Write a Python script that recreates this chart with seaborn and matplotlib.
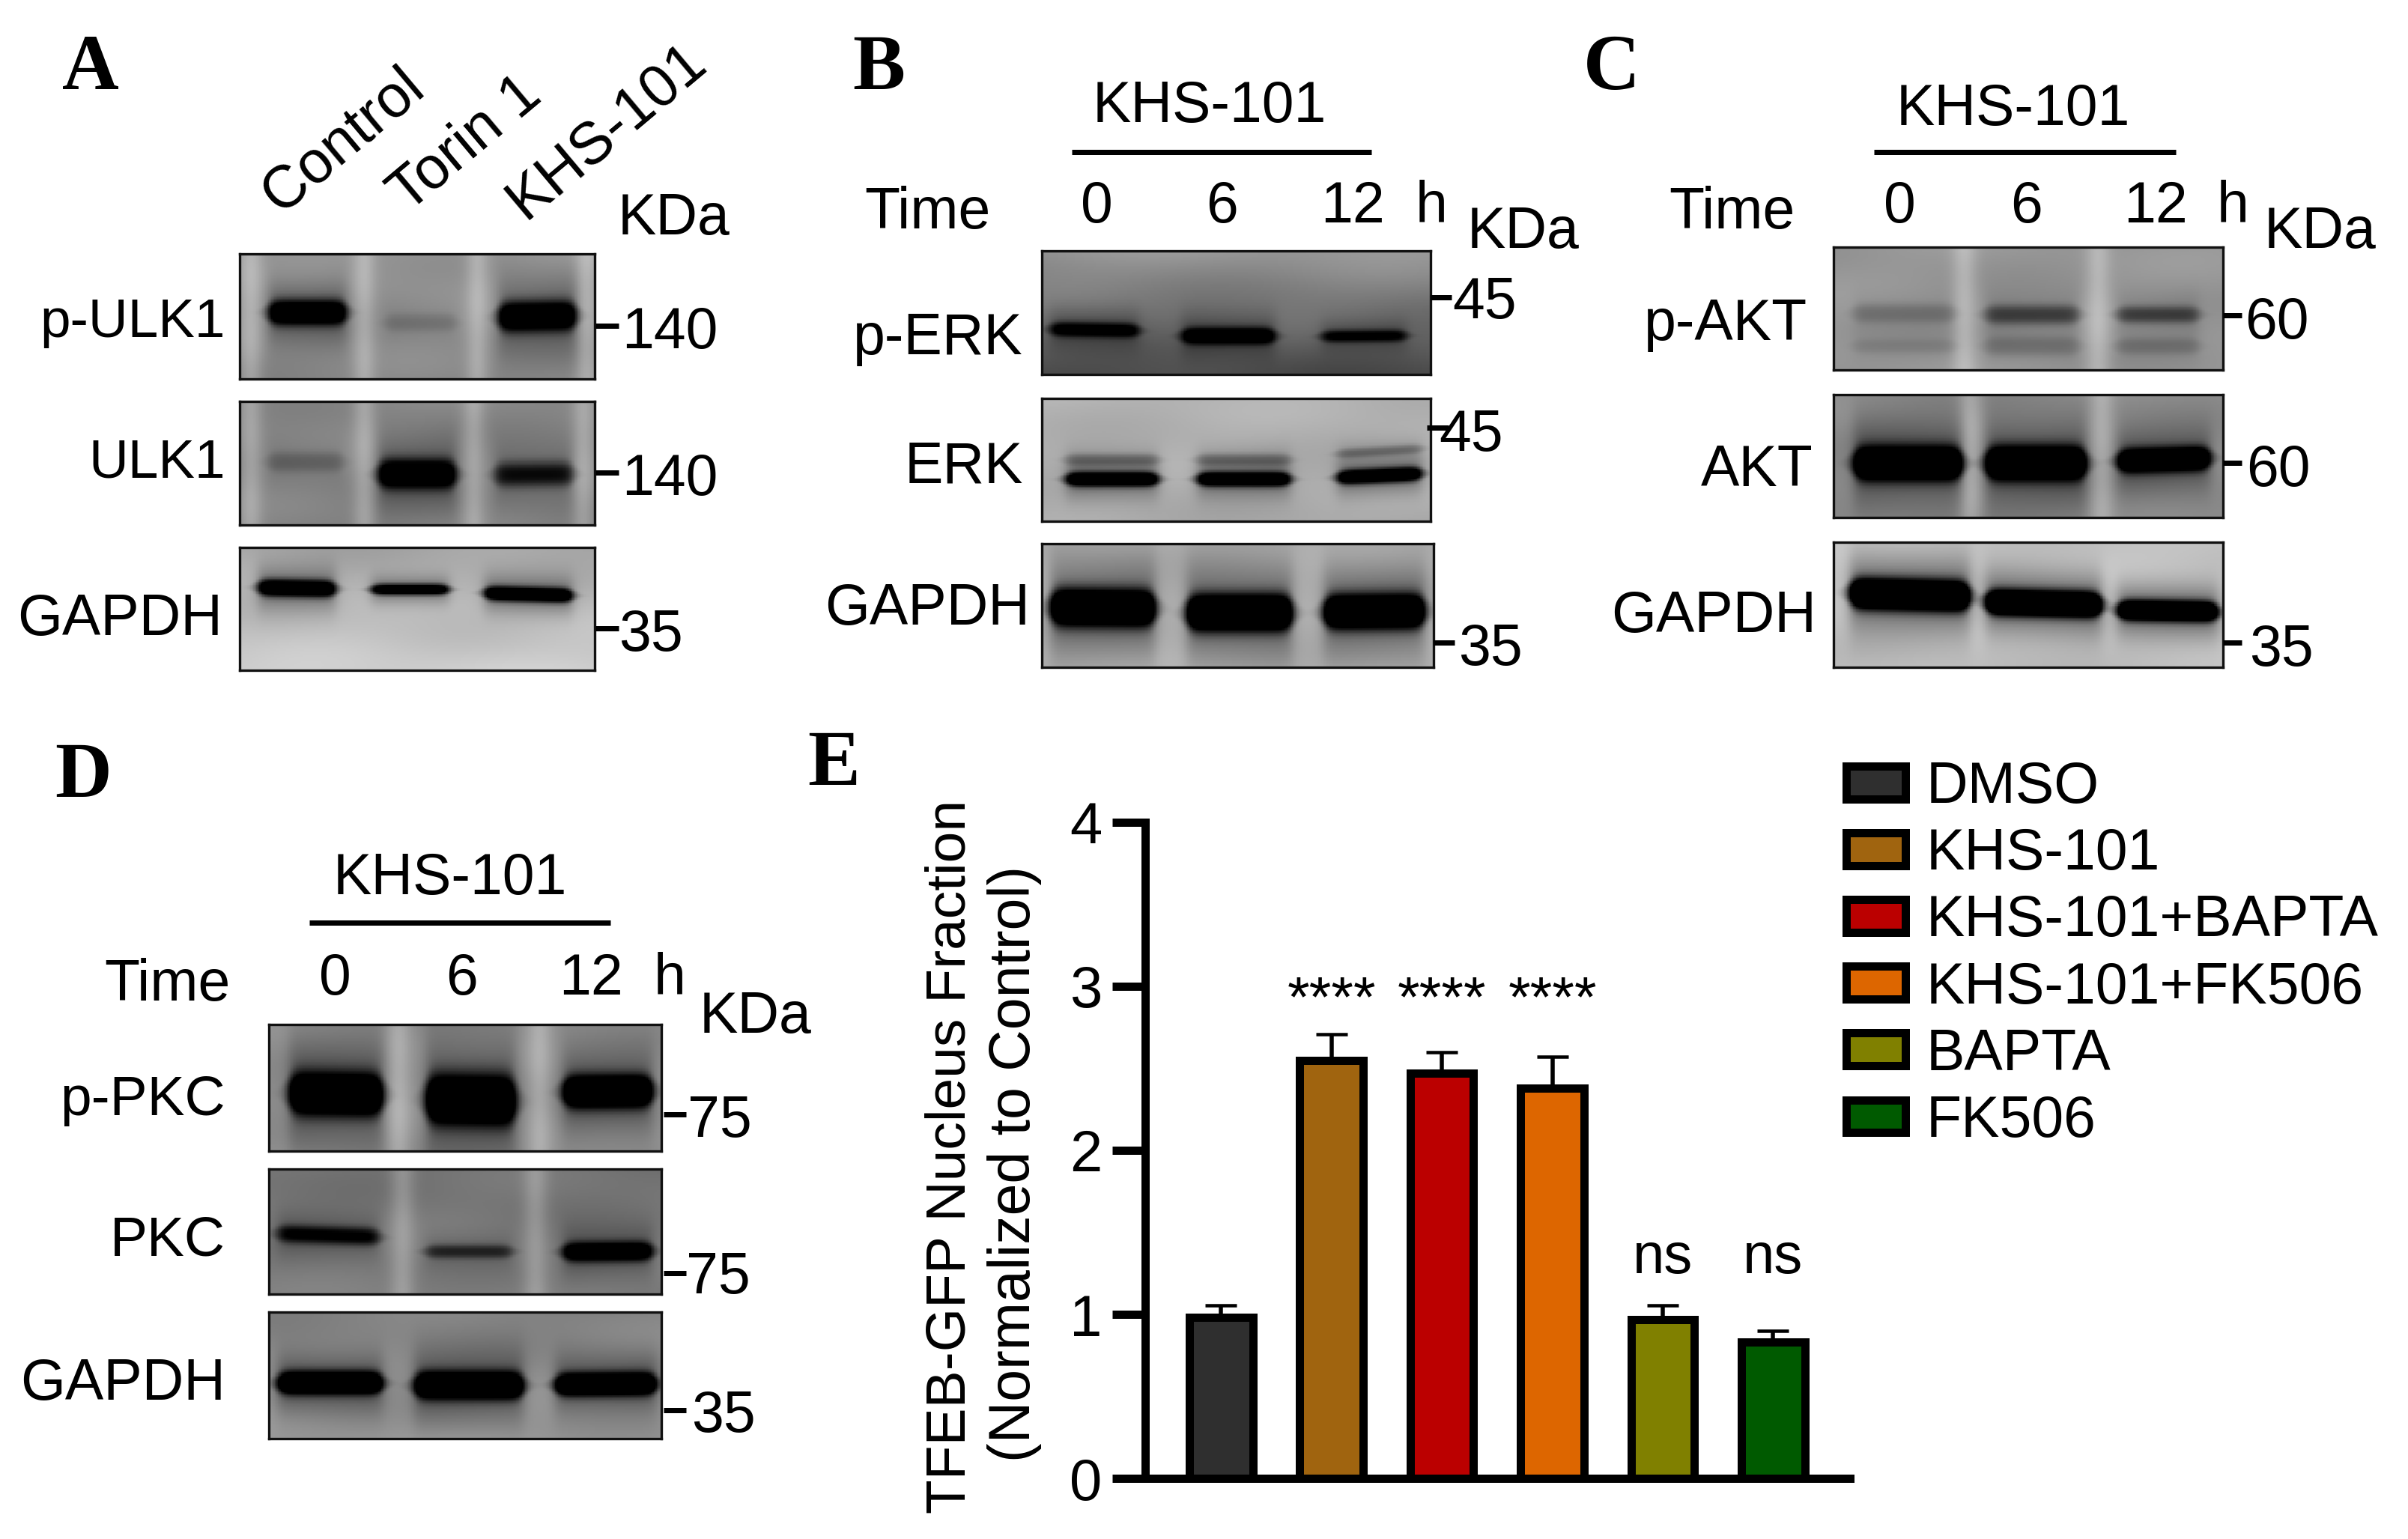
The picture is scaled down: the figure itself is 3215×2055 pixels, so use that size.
import numpy as np
import pandas as pd
import matplotlib
matplotlib.use('Agg')
import matplotlib.pyplot as plt
import seaborn as sns

W, H = 3215, 2055

# Bar chart values (panel E)
categories = ['DMSO', 'KHS-101', 'KHS-101+BAPTA', 'KHS-101+FK506', 'BAPTA', 'FK506']
means = [0.98, 2.55, 2.47, 2.38, 0.97, 0.83]
errors = [0.075, 0.16, 0.13, 0.19, 0.085, 0.07]
signif = ['', '****', '****', '****', 'ns', 'ns']
colors = ['#2f2f2f', '#a0640f', '#bb0000', '#dd6600', '#808000', '#005a00']

# Blots: (top gray, bottom gray), light lane gaps, bands (x0, x1, y, half height, strength, tilt)
p_ulk1 = ((150, 135), [.03, .35, .67, .98], [(.08, .30, .47, .10, 1.1, 0), (.41, .61, .55, .07, .15, 0), (.73, .95, .50, .12, 1.1, -.05)])
ulk1 = ((135, 130), [.03, .35, .66, .97], [(.08, .29, .49, .08, .22, 0), (.39, .61, .59, .12, 1.1, 0), (.72, .94, .59, .10, .7, -.03)])
gapdh_a = ((165, 205), [], [(.05, .27, .33, .07, 1.1, .05), (.37, .59, .34, .045, 1, 0), (.69, .94, .38, .06, 1.1, .08)])
p_erk = ((150, 75), [], [(.02, .25, .64, .06, .95, .05), (.36, .60, .69, .07, 1.1, 0), (.72, .94, .69, .05, .85, -.03)])
erk = ((178, 170), [], [(.06, .30, .50, .05, .25, 0), (.06, .30, .66, .06, 1.1, 0), (.40, .64, .50, .05, .25, 0), (.40, .64, .66, .06, 1.1, 0), (.76, .98, .43, .04, .25, -.2), (.76, .98, .63, .06, 1.1, -.15)])
gapdh_b = ((170, 175), [], [(.02, .29, .52, .15, 1.3, .03), (.37, .64, .56, .15, 1.3, 0), (.72, .98, .55, .14, 1.3, -.03)])
p_akt = ((150, 150), [.335, .68], [(.05, .31, .54, .08, .2, 0), (.05, .31, .81, .06, .1, 0), (.39, .63, .55, .08, .45, 0), (.39, .63, .81, .08, .18, 0), (.73, .94, .55, .07, .45, 0), (.73, .94, .81, .07, .18, 0)])
akt = ((140, 135), [.35, .69], [(.05, .33, .56, .14, 1.4, 0), (.39, .65, .56, .14, 1.4, 0), (.73, .97, .53, .10, 1.3, -.1)])
gapdh_c = ((195, 190), [], [(.04, .35, .42, .12, 1.4, .08), (.39, .69, .49, .10, 1.4, .08), (.73, .99, .55, .08, 1.3, .05)])
p_pkc = ((140, 140), [.33, .69], [(.05, .29, .55, .17, 1.3, .05), (.40, .63, .60, .20, 1.3, .05), (.75, .98, .53, .13, 1.3, -.03)])
pkc = ((115, 125), [.34, .68], [(.02, .28, .53, .07, .8, .1), (.40, .62, .66, .055, .55, 0), (.75, .98, .66, .08, 1.1, -.03)])
gapdh_d = ((130, 150), [], [(.02, .29, .56, .09, 1.3, 0), (.37, .65, .58, .11, 1.3, 0), (.73, .99, .57, .09, 1.3, -.03)])

# Pixel boxes of the blots (left, top, right, bottom)
blots = [
    (p_ulk1, (320, 339, 794, 506)), (ulk1, (320, 536, 794, 701)), (gapdh_a, (320, 731, 794, 895)),
    (p_erk, (1391, 335, 1910, 500)), (erk, (1391, 532, 1910, 696)), (gapdh_b, (1391, 726, 1914, 891)),
    (p_akt, (2448, 330, 2968, 494)), (akt, (2448, 527, 2968, 691)), (gapdh_c, (2448, 724, 2968, 891)),
    (p_pkc, (359, 1368, 883, 1537)), (pkc, (359, 1561, 883, 1728)), (gapdh_d, (359, 1752, 883, 1921)),
]


def blot_image(spec, nx, ny):
    (top, bottom), gaps, bands = spec
    X, Y = np.meshgrid(np.linspace(0, 1, nx), np.linspace(0, 1, ny))
    img = top + (bottom - top) * Y
    # soft blotchy membrane look
    img = img + 4 * np.sin(9 * X + 5 * Y + top) + 3 * np.sin(4 * X - 11 * Y + bottom)
    for g in gaps:
        img = img + 32 * np.exp(-((X - g) / .032) ** 2)
    dark = np.zeros_like(img)
    for x0, x1, yc, t, s, tilt in bands:
        edge = 0.5 * (np.tanh((X - x0) / .018) - np.tanh((X - x1) / .018))
        dy = Y - yc - tilt * (X - (x0 + x1) / 2)
        taper = np.clip(edge, .02, 1) ** .4
        dark += s * edge * np.exp(-(np.abs(dy) / (t * taper)) ** 2.6) + 0.35 * s * edge * np.exp(-(dy / (2.6 * t)) ** 2)
    return np.clip(img * (1 - np.clip(dark, 0, 1)), 0, 255)


sns.set_theme(style='white')
plt.rcParams['font.family'] = ['Liberation Sans', 'DejaVu Sans']

fig = plt.figure(figsize=(W / 100, H / 100), dpi=100)


def px(size):
    return size * 0.72


# Western blot panels
for spec, (l, t, r, b) in blots:
    ax = fig.add_axes([l / W, 1 - b / H, (r - l) / W, (b - t) / H])
    sns.heatmap(blot_image(spec, (r - l) // 2, (b - t) // 2), ax=ax, cmap='gray', vmin=0, vmax=255,
                cbar=False, xticklabels=False, yticklabels=False)
    for s in ax.spines.values():
        s.set_visible(True)
        s.set_color('#111111')
        s.set_linewidth(2.4)

# Bar chart, panel E
left, right, top, bottom = 1529, 2470, 1098, 1974
ax = fig.add_axes([left / W, 1 - bottom / H, (right - left) / W, (bottom - top) / H])
df = pd.DataFrame({'group': categories, 'value': means})
sns.barplot(data=df, x='group', y='value', hue='group', palette=colors, saturation=1, width=.576,
            edgecolor='black', linewidth=px(11), legend=True, ax=ax)
ax.errorbar(range(len(means)), means, yerr=[[0] * len(errors), errors], fmt='none', ecolor='black',
            elinewidth=px(5.5), capsize=px(21), capthick=px(4.5), zorder=1)
ax.set_xlim(-.685, 5.695)
ax.set_ylim(0, 4)
ax.set_yticks([0, 1, 2, 3, 4])
ax.set_xticks([])
ax.set_xlabel('')
ax.set_ylabel('')
ax.tick_params(axis='y', left=True, length=px(44), width=px(11), pad=px(14), labelsize=px(78),
               color='black', labelcolor='black')
sns.despine(ax=ax)
for side in ['left', 'bottom']:
    ax.spines[side].set_linewidth(px(11))
    ax.spines[side].set_color('black')
ax.patch.set_alpha(0)

for i, lab in enumerate(signif):
    y = 2.82 if lab == '****' else 1.25
    ax.text(i, y, lab, ha='center', va='baseline', fontsize=px(76), color='black')

leg = ax.legend(loc='upper left', bbox_to_anchor=(2465 / W, 1 - 1015 / H), bbox_transform=fig.transFigure,
                frameon=False, fontsize=px(77), borderpad=0, borderaxespad=0, handlelength=1.02,
                handleheight=.5, handletextpad=.36, labelspacing=.21)
for t in leg.get_texts():
    t.set_color('black')

# Everything else is placed on a full-figure overlay in pixels
over = fig.add_axes([0, 0, 1, 1], zorder=10)
over.set_xlim(0, W)
over.set_ylim(H, 0)
over.axis('off')


def label(x, y, s, size=77, ha='center', **kw):
    # y is the middle of the capital letters
    over.text(x, y + 0.358 * size, s, fontsize=px(size), ha=ha, va='baseline', color='black', **kw)


def letter(x, y, s):
    over.text(x, y + 33, s, fontsize=px(105), ha='center', va='baseline', color='black',
              family='Liberation Serif', fontweight='bold')


def tick(x0, x1, y):
    over.plot([x0, x1], [y, y], color='black', lw=px(7), solid_capstyle='butt')


for x, y, s in [(121, 86, 'A'), (1173, 86, 'B'), (2152, 86, 'C'), (111, 1031, 'D'), (1113, 1015, 'E')]:
    letter(x, y, s)

# Panel A headers
for x, y, s in [(459, 189, 'Control'), (622, 193, 'Torin 1'), (810, 176, 'KHS-101')]:
    over.text(x, y, s, fontsize=px(79), rotation=40, rotation_mode='anchor', ha='center', va='center', color='black')
label(900, 285, 'KDa')

# Row names
for x, y, s, size in [(301, 424, 'p-ULK1', 73), (301, 611, 'ULK1', 73), (297, 820, 'GAPDH', 77),
                      (1366, 445, 'p-ERK', 77), (1366, 617, 'ERK', 77), (1375, 806, 'GAPDH', 77),
                      (2413, 426, 'p-AKT', 77), (2421, 621, 'AKT', 77), (2425, 816, 'GAPDH', 77),
                      (301, 1462, 'p-PKC', 75), (301, 1650, 'PKC', 75), (301, 1841, 'GAPDH', 77)]:
    label(x, y, s, size=size, ha='right')

# Molecular weights
for x0, x1, y, tx, ty, s in [(795, 826, 435, 894, 437, '140'), (795, 826, 631, 894, 633, '140'), (795, 826, 839, 869, 841, '35'),
                             (1910, 1938, 397, 1982, 397, '45'), (1905, 1934, 571, 1964, 574, '45'), (1914, 1942, 858, 1990, 860, '35'),
                             (2968, 2993, 421, 3040, 424, '60'), (2968, 2993, 618, 3042, 621, '60'), (2968, 2993, 858, 3046, 861, '35'),
                             (886, 916, 1488, 961, 1490, '75'), (886, 916, 1700, 959, 1699, '75'), (886, 916, 1883, 966, 1884, '35')]:
    tick(x0, x1, y)
    label(tx, ty, s)

# KHS-101 time course headers
for cx, ty, x0, x1, ly, tim, t0, t6, t12, th, kx, ky, hy in [
    (1615, 135, 1431, 1831, 203, 1238, 1464, 1632, 1806, 1911, 2034, 303, 269),
    (2688, 139, 2502, 2905, 203, 2312, 2536, 2706, 2878, 2981, 3098, 303, 269),
    (601, 1166, 413, 815, 1232, 223, 447, 617, 789, 894, 1009, 1351, 1300),
]:
    label(cx, ty, 'KHS-101')
    over.plot([x0, x1], [ly, ly], color='black', lw=px(7), solid_capstyle='butt')
    label(tim, hy + 8, 'Time')
    for x, s in [(t0, '0'), (t6, '6'), (t12, '12'), (th, 'h')]:
        label(x, hy, s)
    label(kx, ky, 'KDa')

# y axis titles of panel E
for x, y, s, size in [(1262, 1544, 'TFEB-GFP Nucleus Fraction', 75), (1348, 1554, '(Normalized to Control)', 77)]:
    over.text(x + 27, y, s, fontsize=px(size), rotation=90, rotation_mode='anchor', ha='center', va='baseline', color='black')

fig.savefig('out.png', dpi=100, facecolor='white')
